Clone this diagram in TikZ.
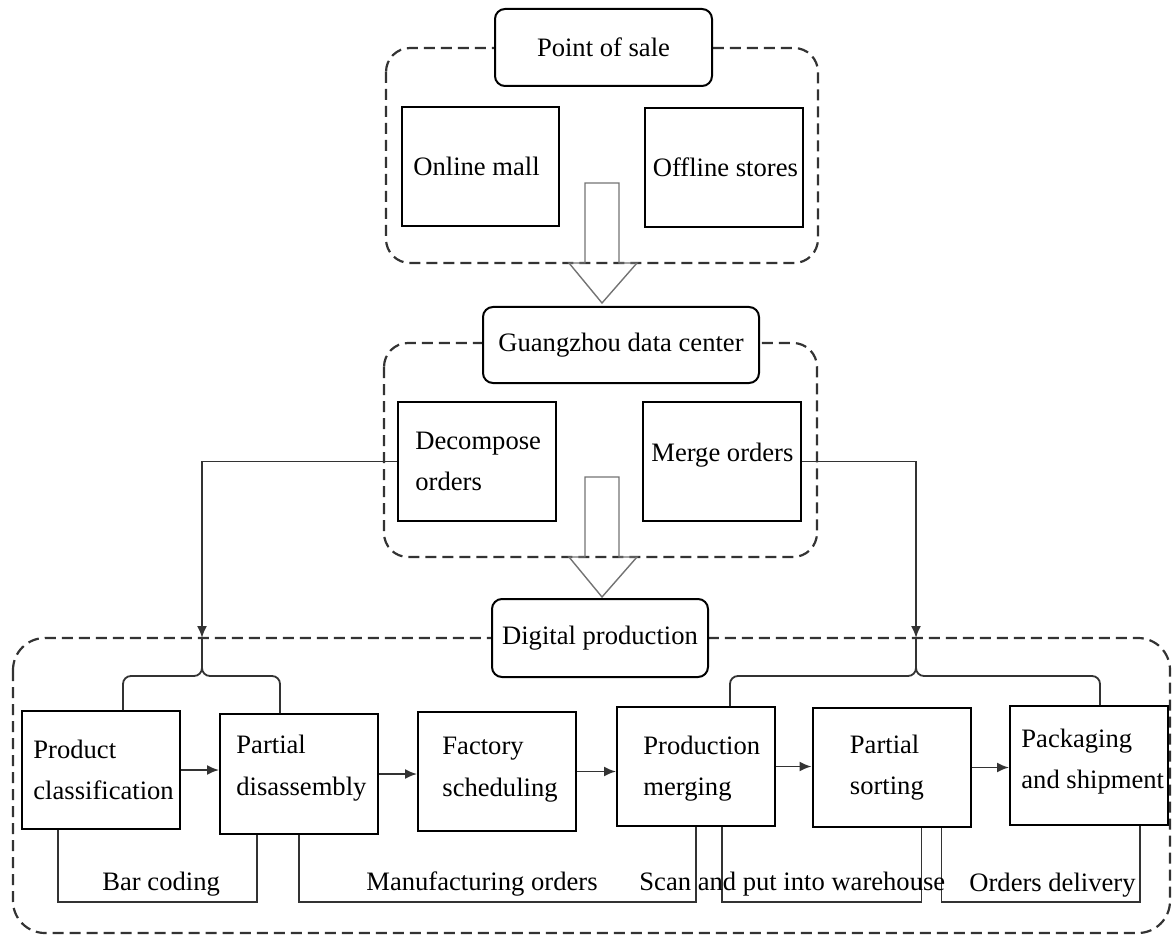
\documentclass[tikz,border=0pt]{standalone}
\usepackage{fontspec}
\setmainfont{Liberation Serif}
\usetikzlibrary{arrows.meta,calc}
\begin{document}
\begin{tikzpicture}[x=0.5pt,y=-0.5pt,
  every node/.style={font=\fontsize{13.3}{20.75}\selectfont},
  box/.style={draw,line width=1pt,minimum width=79pt,minimum height=59.5pt,inner sep=0pt},
  txt/.style={anchor=west,align=left,inner sep=0pt},
  tagbox/.style={draw,fill=white,rounded corners=5pt,line width=1pt,inner sep=0pt},
  dashbox/.style={draw=black!80,line width=1.1pt,dash pattern=on 5.5pt off 3pt},
  conn/.style={draw=black!80,line width=0.9pt},
  arr/.style={conn,-{Latex[length=6pt,width=5pt]}},
  hollow/.style={draw=black!55,line width=0.7pt,line join=miter},
  lbl/.style={anchor=base west,inner sep=0pt}
]
\useasboundingbox (0,0) rectangle (1173,936);

% dashed containers
\draw[dashbox,rounded corners=12pt] (386,48) rectangle (818,263);
\draw[dashbox,rounded corners=12pt] (384,343) rectangle (817,557);
\draw[dashbox,rounded corners=16pt] (13,638) rectangle (1170,933);

% hollow arrows
\draw[hollow] (585,183) -- (619,183) -- (619,263) -- (637,263) -- (602,303) -- (569,263) -- (585,263) -- cycle;
\draw[hollow] (585,477) -- (619,477) -- (619,557) -- (637,557) -- (602,597) -- (569,557) -- (585,557) -- cycle;

% title boxes
\node[tagbox,minimum width=108.5pt,minimum height=38.5pt] (pos) at (603.5,47.5) {Point of sale};
\node[tagbox,minimum width=138pt,minimum height=38pt] (gz) at (621,345) {Guangzhou data center};
\node[tagbox,minimum width=108pt,minimum height=39pt] (dp) at (600,638) {Digital production};

% top boxes
\node[box,minimum width=78.5pt] (online) at (480.5,166.5) {};
\node[txt] (online-t) at ([xshift=6pt]online.west) {Online mall};
\node[box] (offline) at (723.5,167.5) {};
\node[txt] (offline-t) at ([xshift=4.5pt]offline.west) {Offline stores};

% middle boxes
\node[box] (dec) at (477,461.5) {};
\node[txt] (dec-t) at ([xshift=9pt]dec.west) {Decompose\\orders};
\node[box] (merge) at (722,461.5) {};
\node[txt] (merge-t) at ([xshift=4.5pt,yshift=3.25pt]merge.west) {Merge orders};

% bottom row
\node[box,minimum height=59pt] (pc) at (101,770) {};
\node[txt] (pc-t) at ([xshift=6pt]pc.west) {Product\\classification};
\node[box,minimum height=60pt] (pd) at (299,774) {};
\node[txt] (pd-t) at ([xshift=8.5pt,yshift=3pt]pd.west) {Partial\\disassembly};
\node[box] (fs) at (497,771.5) {};
\node[txt] (fs-t) at ([xshift=12.5pt,yshift=1pt]fs.west) {Factory\\scheduling};
\node[box] (pm) at (696,766.5) {};
\node[txt] (pm-t) at ([xshift=13.5pt,yshift=-1pt]pm.west) {Production\\merging};
\node[box] (ps) at (891.5,767.5) {};
\node[txt] (ps-t) at ([xshift=19pt]ps.west) {Partial\\sorting};
\node[box] (pas) at (1089,765.5) {};
\node[txt] (pas-t) at ([xshift=6pt,yshift=2pt]pas.west) {Packaging\\and shipment};

% order flows into digital production
\coordinate (bl) at (202,638);
\coordinate (br) at (916,638);
\coordinate (blj) at (202,676);
\coordinate (brj) at (916,676);
\draw[arr] (dec.west) -| (bl);
\draw[arr] (merge.east) -| (br);
\draw[conn,rounded corners=4pt] ([xshift=11pt]pc.north) |- (blj) -- (bl);
\draw[conn,rounded corners=4pt] ([xshift=-9.5pt]pd.north) |- (blj) -- (bl);
\draw[conn,rounded corners=4pt] ([xshift=17pt]pm.north) |- (brj) -- (br);
\draw[conn,rounded corners=4pt] ([xshift=5.5pt]pas.north) |- (brj) -- (br);

% row arrows
\draw[arr] (pc.east) -- (pc.east -| pd.west);
\draw[arr] (pd.east) -- (pd.east -| fs.west);
\draw[arr] (fs.east) -- (fs.east -| pm.west);
\draw[arr] (pm.east) -- (pm.east -| ps.west);
\draw[arr] (ps.east) -- (ps.east -| pas.west);

% bottom return connectors
\coordinate (low) at (0,902);
\coordinate (u1a) at ([xshift=-21.5pt]pc.south);
\coordinate (u1b) at ([xshift=-21pt]pd.south);
\coordinate (u2a) at (pd.south);
\coordinate (u2b) at (pm.south);
\coordinate (u3a) at ([xshift=13pt]pm.south);
\coordinate (u3b) at ([xshift=15pt]ps.south);
\coordinate (u4a) at ([xshift=25pt]ps.south);
\coordinate (u4b) at ([xshift=25.5pt]pas.south);
\draw[conn] (u1a) -- (u1a |- low) -| (u1b);
\draw[conn] (u2a) -- (u2a |- low) -| (u2b);
\draw[conn] (u3a) -- (u3a |- low) -| (u3b);
\draw[conn] (u4a) -- (u4a |- low) -| (u4b);

\node[lbl] (t1) at (102,890) {Bar coding};
\node[lbl] (t2) at (366,890) {Manufacturing orders};
\node[lbl] (t3) at (639,890) {Scan and put into warehouse};
\node[lbl] (t4) at (969,891) {Orders delivery};
\end{tikzpicture}
\end{document}
